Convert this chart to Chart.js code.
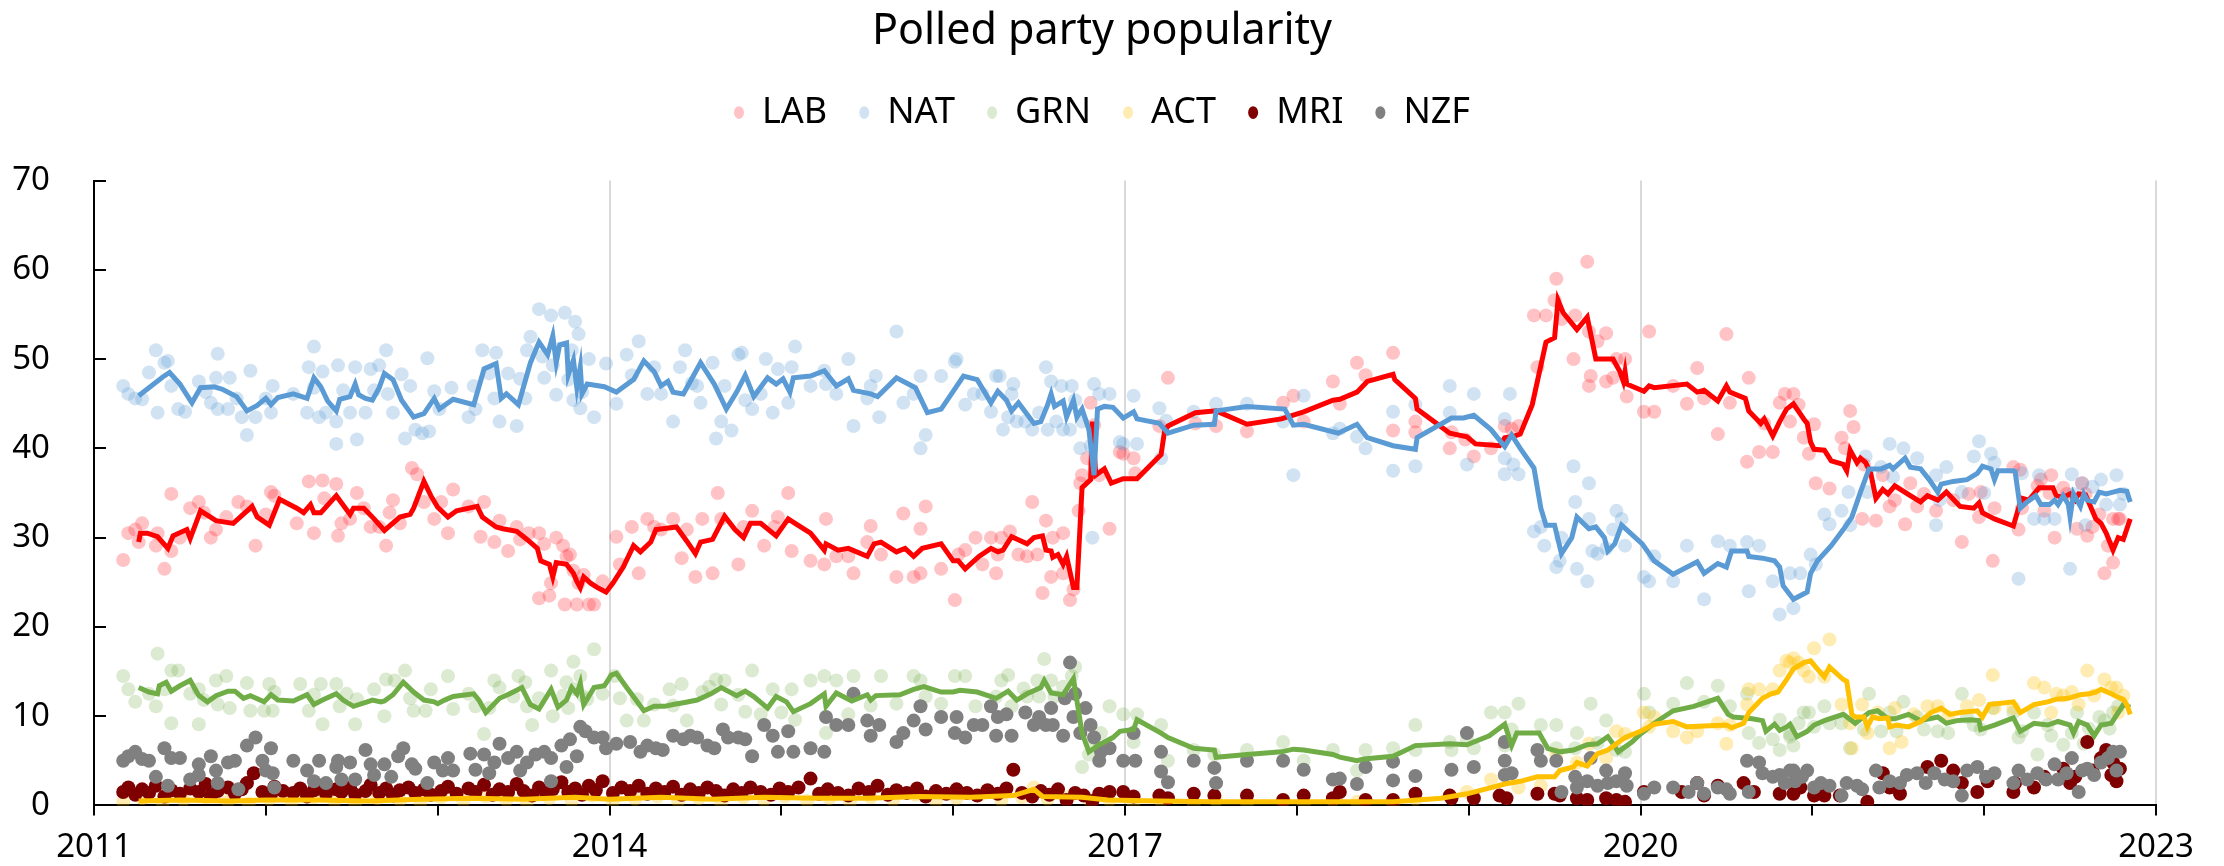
<!DOCTYPE html>
<html>
<head>
<meta charset="utf-8">
<title>Polled party popularity</title>
<script src="https://cdn.jsdelivr.net/npm/chart.js@4.4.1/dist/chart.umd.min.js"></script>
<style>
  body { margin: 0; background: #fff; }
  #wrap { width: 2224px; height: 866px; }
</style>
</head>
<body>
<div id="wrap"><canvas id="myChart"></canvas></div>
<script>
// polls, [decimal year, percent]
const labPolls = [
  [2011.17,27.5],[2011.20,30.5],[2011.24,30.9],[2011.26,29.5],[2011.28,31.6],[2011.36,29.1],[2011.37,30.5],[2011.41,26.5],
  [2011.45,34.9],[2011.45,28.5],[2011.50,30.0],[2011.56,33.3],[2011.61,34.0],[2011.64,32.8],[2011.68,30.0],[2011.71,30.9],
  [2011.77,32.3],[2011.84,34.0],[2011.89,33.5],[2011.94,29.1],[2012.00,32.6],[2012.03,35.1],[2012.05,34.7],[2012.18,31.6],
  [2012.25,36.3],[2012.28,30.5],[2012.33,36.4],[2012.34,34.4],[2012.41,36.0],[2012.42,30.2],[2012.44,31.6],[2012.49,32.1],
  [2012.53,35.0],[2012.57,33.3],[2012.61,31.2],[2012.66,31.2],[2012.70,29.1],[2012.72,32.8],[2012.74,34.2],[2012.78,31.6],
  [2012.85,37.8],[2012.88,37.1],[2012.92,34.0],[2012.98,32.1],[2013.02,34.0],[2013.06,30.5],[2013.09,35.4],[2013.18,33.5],
  [2013.25,30.1],[2013.27,34.0],[2013.33,29.5],[2013.36,31.9],[2013.41,28.5],[2013.46,31.2],[2013.48,29.8],[2013.53,30.5],
  [2013.59,30.5],[2013.59,23.2],[2013.62,29.3],[2013.65,23.5],[2013.66,24.9],[2013.69,30.0],[2013.73,29.1],[2013.74,22.5],
  [2013.75,27.9],[2013.77,28.1],[2013.79,26.3],[2013.81,22.5],[2013.82,24.9],[2013.85,25.8],[2013.88,22.5],[2013.91,22.5],
  [2013.96,25.1],[2014.04,30.1],[2014.06,27.0],[2014.13,31.2],[2014.17,26.0],[2014.22,32.1],[2014.26,31.2],[2014.30,30.9],
  [2014.37,32.1],[2014.42,27.7],[2014.45,30.9],[2014.50,25.6],[2014.54,32.1],[2014.60,26.0],[2014.63,35.0],[2014.65,32.1],
  [2014.75,27.0],[2014.78,31.2],[2014.83,33.0],[2014.90,29.1],[2014.96,31.2],[2014.98,32.3],[2015.04,35.0],[2015.06,28.5],
  [2015.17,27.4],[2015.25,27.0],[2015.26,32.1],[2015.32,27.9],[2015.39,27.9],[2015.42,26.0],[2015.50,29.5],[2015.52,31.3],
  [2015.58,28.1],[2015.67,25.6],[2015.71,32.7],[2015.77,25.6],[2015.81,26.0],[2015.81,31.0],[2015.84,33.5],[2015.93,26.5],
  [2016.01,23.0],[2016.03,28.1],[2016.07,28.6],[2016.13,30.0],[2016.17,27.0],[2016.22,30.0],[2016.25,26.0],[2016.26,28.1],
  [2016.28,30.0],[2016.33,30.7],[2016.38,28.1],[2016.43,27.9],[2016.46,34.0],[2016.49,28.1],[2016.52,23.8],[2016.54,31.9],
  [2016.57,25.6],[2016.58,30.0],[2016.64,30.5],[2016.64,26.0],[2016.68,23.0],[2016.70,24.2],[2016.73,33.0],[2016.74,36.1],
  [2016.75,37.0],[2016.78,38.9],[2016.80,45.1],[2016.82,42.6],[2016.85,37.0],[2016.91,31.0],[2016.97,39.6],[2016.99,39.4],
  [2017.05,38.9],[2017.06,37.2],[2017.20,42.5],[2017.25,47.9],[2017.41,42.8],[2017.53,42.5],[2017.71,41.9],[2017.92,45.1],
  [2017.98,45.9],[2018.04,43.0],[2018.21,47.5],[2018.25,45.0],[2018.35,49.6],[2018.40,48.2],[2018.56,50.7],[2018.56,42.0],
  [2018.69,43.0],[2018.69,41.8],[2018.89,40.0],[2018.90,41.8],[2018.98,41.0],[2019.03,39.1],[2019.13,40.0],[2019.21,42.5],
  [2019.25,42.2],[2019.29,42.5],[2019.38,54.9],[2019.40,49.1],[2019.45,54.9],[2019.50,56.6],[2019.51,59.0],[2019.54,54.5],
  [2019.61,50.0],[2019.62,54.9],[2019.69,60.9],[2019.70,53.1],[2019.71,48.1],[2019.70,47.0],[2019.75,52.0],[2019.80,47.5],
  [2019.80,52.9],[2019.84,47.9],[2019.86,50.0],[2019.91,50.0],[2019.92,45.8],[2020.02,44.1],[2020.05,53.1],[2020.08,44.1],
  [2020.19,47.0],[2020.27,45.0],[2020.33,49.0],[2020.37,45.6],[2020.45,41.6],[2020.50,52.8],[2020.52,45.1],[2020.62,38.5],
  [2020.63,47.9],[2020.69,39.6],[2020.72,42.8],[2020.77,39.6],[2020.81,45.1],[2020.84,46.1],[2020.87,43.0],[2020.89,46.1],
  [2020.92,44.9],[2020.95,41.2],[2020.98,39.4],[2021.01,42.7],[2021.02,36.1],[2021.10,35.5],[2021.17,41.2],[2021.19,40.0],
  [2021.22,44.2],[2021.24,42.4],[2021.29,32.1],[2021.30,38.2],[2021.37,31.9],[2021.41,37.0],[2021.45,33.5],[2021.48,34.2],
  [2021.54,31.5],[2021.57,36.1],[2021.61,33.5],[2021.65,34.9],[2021.72,33.0],[2021.82,34.2],[2021.87,29.5],[2021.91,34.9],
  [2021.97,32.3],[2021.98,35.1],[2022.05,27.4],[2022.06,33.3],[2022.17,37.9],[2022.20,30.9],[2022.21,37.6],[2022.22,33.3],
  [2022.31,35.8],[2022.33,36.5],[2022.35,33.0],[2022.38,35.0],[2022.39,37.0],[2022.41,30.0],[2022.46,35.6],[2022.48,34.9],
  [2022.54,31.0],[2022.57,36.1],[2022.59,34.9],[2022.60,30.2],[2022.63,31.2],[2022.67,32.6],[2022.70,26.0],[2022.72,29.1],
  [2022.75,27.2],[2022.75,32.1],[2022.78,32.1],[2022.79,32.1]
];
const natPolls = [
  [2011.17,47.0],[2011.20,46.1],[2011.24,45.6],[2011.28,45.5],[2011.32,48.5],[2011.36,51.0],[2011.37,44.0],[2011.41,49.6],
  [2011.43,49.8],[2011.45,47.0],[2011.49,44.4],[2011.53,44.1],[2011.61,47.5],[2011.65,46.3],[2011.68,45.1],[2011.71,47.9],
  [2011.72,50.6],[2011.72,44.4],[2011.78,44.4],[2011.79,47.9],[2011.83,45.6],[2011.86,43.5],[2011.89,41.5],[2011.91,48.7],
  [2011.94,43.5],[2012.00,45.6],[2012.03,44.0],[2012.04,47.0],[2012.16,46.1],[2012.24,44.0],[2012.25,49.1],[2012.28,51.4],
  [2012.28,46.8],[2012.31,43.5],[2012.33,48.6],[2012.35,44.0],[2012.41,43.0],[2012.41,40.5],[2012.42,49.3],[2012.45,46.5],
  [2012.49,44.0],[2012.52,49.1],[2012.53,41.0],[2012.58,44.0],[2012.61,48.9],[2012.63,46.5],[2012.66,49.3],[2012.70,51.0],
  [2012.71,46.1],[2012.74,44.0],[2012.79,48.3],[2012.81,41.1],[2012.84,47.0],[2012.87,42.1],[2012.91,41.7],[2012.94,50.1],
  [2012.95,41.9],[2012.98,46.4],[2013.01,44.4],[2013.08,46.8],[2013.18,43.5],[2013.21,47.0],[2013.22,44.4],[2013.26,51.0],
  [2013.30,48.4],[2013.33,45.6],[2013.34,50.7],[2013.36,43.0],[2013.41,48.4],[2013.46,42.5],[2013.48,47.8],[2013.51,45.6],
  [2013.52,51.0],[2013.54,52.5],[2013.59,55.6],[2013.61,50.3],[2013.62,47.9],[2013.66,54.9],[2013.67,49.3],[2013.69,46.0],
  [2013.74,55.2],[2013.76,47.7],[2013.78,51.0],[2013.80,54.2],[2013.82,52.8],[2013.79,45.4],[2013.83,44.5],[2013.84,46.3],
  [2013.88,50.0],[2013.91,43.5],[2013.98,49.5],[2014.04,45.0],[2014.10,50.5],[2014.13,48.2],[2014.17,52.0],[2014.22,46.1],
  [2014.26,49.1],[2014.30,46.1],[2014.37,43.0],[2014.41,49.1],[2014.44,51.0],[2014.48,47.3],[2014.51,47.0],[2014.53,45.1],
  [2014.60,49.6],[2014.62,41.1],[2014.65,43.0],[2014.67,47.0],[2014.71,42.0],[2014.75,50.5],[2014.77,50.7],[2014.79,45.4],
  [2014.83,44.4],[2014.88,46.1],[2014.91,50.0],[2014.95,44.0],[2014.98,48.9],[2015.04,45.1],[2015.06,49.1],[2015.08,51.4],
  [2015.17,47.0],[2015.25,48.7],[2015.26,47.2],[2015.32,46.1],[2015.39,50.0],[2015.42,42.5],[2015.50,45.6],[2015.52,47.0],
  [2015.55,48.1],[2015.57,43.5],[2015.67,53.1],[2015.71,45.1],[2015.77,46.1],[2015.81,40.0],[2015.81,48.1],[2015.84,41.5],
  [2015.93,48.1],[2016.01,49.7],[2016.02,50.0],[2016.07,44.9],[2016.12,46.1],[2016.17,46.1],[2016.22,44.1],[2016.25,48.1],
  [2016.27,48.1],[2016.29,42.1],[2016.32,43.5],[2016.34,46.1],[2016.35,47.2],[2016.37,43.0],[2016.42,43.0],[2016.46,42.1],
  [2016.50,44.0],[2016.54,49.1],[2016.55,42.1],[2016.57,47.5],[2016.60,43.0],[2016.63,47.0],[2016.64,42.1],[2016.68,42.1],
  [2016.69,47.0],[2016.71,45.4],[2016.74,40.0],[2016.75,43.0],[2016.80,40.3],[2016.82,47.2],[2016.81,30.0],[2016.85,46.1],
  [2016.91,46.1],[2016.97,40.7],[2016.99,40.5],[2017.05,45.9],[2017.07,40.5],[2017.20,44.5],[2017.21,38.9],[2017.24,43.1],
  [2017.40,44.1],[2017.53,45.0],[2017.71,45.0],[2017.92,43.0],[2017.98,37.0],[2018.04,45.9],[2018.21,41.7],[2018.25,42.2],
  [2018.35,41.3],[2018.40,40.0],[2018.56,44.1],[2018.56,37.5],[2018.69,44.9],[2018.69,38.0],[2018.89,47.0],[2018.89,44.0],
  [2018.99,38.2],[2019.03,46.1],[2019.21,43.3],[2019.24,46.1],[2019.21,38.9],[2019.21,37.1],[2019.26,38.2],[2019.29,37.1],
  [2019.38,30.7],[2019.42,31.2],[2019.44,29.1],[2019.51,26.7],[2019.54,30.0],[2019.53,27.4],[2019.61,38.0],[2019.62,34.0],
  [2019.63,26.5],[2019.69,25.1],[2019.70,36.1],[2019.70,32.1],[2019.72,28.5],[2019.75,28.2],[2019.80,28.8],[2019.84,30.9],
  [2019.86,33.0],[2019.89,32.1],[2019.91,29.1],[2020.02,25.6],[2020.05,25.1],[2020.08,27.9],[2020.19,25.1],[2020.27,29.1],
  [2020.37,23.1],[2020.45,29.6],[2020.52,29.1],[2020.62,29.5],[2020.63,24.0],[2020.69,29.1],[2020.77,25.1],[2020.81,21.4],
  [2020.87,26.0],[2020.89,22.1],[2020.93,26.0],[2020.99,28.1],[2021.02,27.0],[2021.07,32.6],[2021.10,31.5],[2021.17,33.0],
  [2021.21,35.1],[2021.22,31.4],[2021.31,39.1],[2021.32,35.1],[2021.40,37.9],[2021.45,40.5],[2021.47,36.8],[2021.53,40.0],
  [2021.61,38.9],[2021.72,37.0],[2021.72,31.4],[2021.74,34.2],[2021.78,37.9],[2021.87,35.1],[2021.94,39.1],[2021.97,40.8],
  [2022.00,35.0],[2022.04,39.4],[2022.06,38.4],[2022.20,25.4],[2022.22,37.2],[2022.29,32.1],[2022.32,37.0],[2022.35,32.1],
  [2022.41,32.1],[2022.51,37.1],[2022.50,26.5],[2022.52,34.9],[2022.57,36.1],[2022.59,31.4],[2022.63,35.7],[2022.68,36.5],
  [2022.71,33.7],[2022.77,37.0],[2022.79,33.7],[2022.81,34.9]
];
const grnPolls = [
  [2011.17,14.5],[2011.20,13.0],[2011.24,11.6],[2011.32,12.5],[2011.36,11.1],[2011.37,17.0],[2011.41,13.0],[2011.45,15.1],
  [2011.45,9.2],[2011.49,15.1],[2011.56,12.5],[2011.61,9.1],[2011.61,13.0],[2011.64,11.8],[2011.71,14.0],[2011.72,11.3],
  [2011.77,14.5],[2011.79,10.9],[2011.89,13.7],[2011.91,10.6],[2011.99,10.6],[2012.02,13.6],[2012.04,10.6],[2012.05,12.7],
  [2012.20,13.6],[2012.25,10.6],[2012.28,12.4],[2012.32,13.6],[2012.33,9.1],[2012.41,13.6],[2012.43,11.1],[2012.47,12.5],
  [2012.52,9.1],[2012.53,11.9],[2012.63,13.0],[2012.69,10.0],[2012.70,14.1],[2012.75,14.0],[2012.81,15.1],[2012.84,12.0],
  [2012.86,10.6],[2012.93,10.6],[2012.96,13.0],[2013.06,14.5],[2013.09,10.8],[2013.18,12.5],[2013.22,11.1],[2013.27,8.0],
  [2013.30,10.9],[2013.33,14.0],[2013.36,13.2],[2013.44,12.2],[2013.47,14.5],[2013.51,13.8],[2013.52,11.1],[2013.55,9.0],
  [2013.59,12.0],[2013.66,15.1],[2013.67,10.0],[2013.73,12.3],[2013.75,13.8],[2013.76,10.9],[2013.79,16.1],[2013.80,13.0],
  [2013.83,14.5],[2013.85,12.2],[2013.87,11.9],[2013.91,17.5],[2013.96,12.5],[2014.03,14.5],[2014.06,12.0],[2014.10,9.5],
  [2014.16,11.9],[2014.20,9.5],[2014.26,11.3],[2014.35,13.0],[2014.37,11.2],[2014.42,13.6],[2014.45,9.5],[2014.54,12.7],
  [2014.58,13.3],[2014.62,14.1],[2014.65,11.3],[2014.67,14.0],[2014.75,12.4],[2014.79,10.5],[2014.83,15.1],[2014.88,10.2],
  [2014.95,13.0],[2015.00,10.4],[2015.06,13.0],[2015.08,9.6],[2015.17,14.0],[2015.25,14.5],[2015.26,8.1],[2015.32,14.0],
  [2015.39,10.2],[2015.42,14.5],[2015.52,11.2],[2015.58,14.5],[2015.67,11.4],[2015.77,14.5],[2015.81,14.0],[2015.84,12.2],
  [2015.93,11.4],[2016.01,14.5],[2016.07,14.5],[2016.13,11.1],[2016.25,12.2],[2016.28,14.0],[2016.32,14.6],[2016.34,11.1],
  [2016.41,13.1],[2016.43,12.2],[2016.49,14.0],[2016.50,12.2],[2016.53,16.4],[2016.57,14.0],[2016.59,12.2],[2016.64,13.3],
  [2016.69,14.5],[2016.71,15.5],[2016.75,4.3],[2016.79,5.7],[2016.82,6.7],[2016.86,8.1],[2016.91,11.1],[2016.99,10.2],
  [2017.05,7.1],[2017.07,10.2],[2017.21,9.0],[2017.25,5.0],[2017.40,6.2],[2017.52,5.7],[2017.71,6.2],[2017.92,7.1],
  [2018.04,5.0],[2018.21,6.2],[2018.35,3.9],[2018.40,6.2],[2018.56,6.4],[2018.69,9.0],[2018.69,6.2],[2018.89,7.1],
  [2018.90,6.2],[2018.99,7.4],[2019.03,6.4],[2019.13,10.4],[2019.21,10.4],[2019.21,6.7],[2019.25,8.5],[2019.29,11.4],
  [2019.42,9.0],[2019.51,6.4],[2019.51,9.0],[2019.62,6.4],[2019.63,8.1],[2019.71,11.4],[2019.75,7.0],[2019.80,9.5],
  [2019.86,6.2],[2019.91,6.0],[2020.02,12.5],[2020.05,10.4],[2020.19,11.4],[2020.27,13.7],[2020.37,11.6],[2020.45,13.4],
  [2020.52,11.1],[2020.62,12.5],[2020.63,8.1],[2020.69,7.0],[2020.77,7.4],[2020.81,9.6],[2020.81,6.2],[2020.87,8.0],
  [2020.89,6.7],[2020.87,7.7],[2020.92,9.2],[2020.95,10.4],[2020.98,10.4],[2021.01,8.8],[2021.07,11.1],[2021.10,9.2],
  [2021.17,9.2],[2021.22,6.4],[2021.30,8.5],[2021.33,12.5],[2021.40,8.3],[2021.45,10.4],[2021.49,8.3],[2021.53,11.6],
  [2021.61,9.9],[2021.65,8.5],[2021.73,8.3],[2021.79,8.1],[2021.87,12.5],[2021.90,9.9],[2021.94,9.0],[2021.98,8.5],
  [2022.05,10.9],[2022.17,10.4],[2022.20,7.6],[2022.22,8.3],[2022.29,10.4],[2022.31,5.7],[2022.37,9.0],[2022.39,7.8],
  [2022.46,6.8],[2022.51,8.1],[2022.54,10.4],[2022.58,6.9],[2022.61,8.6],[2022.67,9.9],[2022.70,9.5],[2022.73,8.6],
  [2022.75,10.4],[2022.78,11.1]
];
const actPolls = [
  [2011.17,0.4],[2011.28,0.8],[2011.40,0.3],[2011.52,0.6],[2011.65,0.9],[2011.78,0.5],[2011.90,0.2],[2012.02,0.7],
  [2012.15,0.4],[2012.28,0.9],[2012.40,0.5],[2012.52,0.3],[2012.65,0.8],[2012.78,0.6],[2012.90,0.4],[2013.02,0.9],
  [2013.15,0.5],[2013.28,1.0],[2013.40,0.6],[2013.52,0.3],[2013.65,0.8],[2013.78,0.5],[2013.90,1.1],[2014.02,0.4],
  [2014.15,0.7],[2014.28,1.0],[2014.40,0.5],[2014.52,0.8],[2014.65,0.3],[2014.78,0.9],[2014.90,0.6],[2015.02,1.0],
  [2015.15,0.5],[2015.28,0.8],[2015.40,0.4],[2015.52,0.9],[2015.65,0.6],[2015.78,1.2],[2015.90,0.5],[2016.02,0.8],
  [2016.15,1.1],[2016.28,0.6],[2016.40,0.9],[2016.47,2.0],[2016.55,0.7],[2016.68,1.0],[2016.80,0.4],[2016.91,0.6],
  [2017.05,0.3],[2017.21,0.5],[2017.40,0.2],[2017.53,0.6],[2017.71,0.3],[2017.92,0.5],[2018.04,0.2],[2018.21,0.6],
  [2018.35,0.4],[2018.56,0.3],[2018.69,0.7],[2018.89,1.1],[2018.99,1.5],[2019.13,2.9],[2019.21,3.4],[2019.29,2.0],
  [2019.42,2.2],[2019.51,5.7],[2019.63,4.8],[2019.70,6.9],[2019.80,5.3],[2019.86,8.3],[2019.91,8.0],[2020.02,10.4],
  [2020.05,8.8],[2020.08,9.9],[2020.19,8.3],[2020.27,7.6],[2020.33,8.3],[2020.45,9.2],[2020.50,6.9],[2020.52,9.0],
  [2020.62,11.3],[2020.63,13.0],[2020.69,13.0],[2020.77,13.0],[2020.81,15.1],[2020.85,16.2],[2020.87,16.0],[2020.89,16.5],
  [2020.92,16.0],[2020.95,15.1],[2020.98,14.4],[2021.01,17.6],[2021.07,14.4],[2021.10,18.6],[2021.17,11.3],[2021.22,9.2],
  [2021.23,6.4],[2021.29,11.3],[2021.32,8.1],[2021.38,10.4],[2021.45,6.4],[2021.48,10.9],[2021.52,7.1],[2021.59,10.2],
  [2021.67,11.1],[2021.73,11.1],[2021.79,9.9],[2021.90,11.1],[2021.97,11.8],[2022.05,14.6],[2022.06,10.9],[2022.17,10.9],
  [2022.29,13.7],[2022.35,13.2],[2022.39,10.4],[2022.42,12.5],[2022.46,12.3],[2022.51,12.7],[2022.55,11.3],[2022.60,15.1],
  [2022.64,12.3],[2022.70,14.1],[2022.74,13.2],[2022.77,13.2],[2022.78,10.4],[2022.81,12.3]
];
const mriPolls = [
  [2011.17,1.5],[2011.20,2.0],[2011.24,1.2],[2011.28,1.8],[2011.32,1.4],[2011.36,2.2],[2011.41,1.0],[2011.45,1.7],
  [2011.50,1.3],[2011.56,1.9],[2011.61,1.5],[2011.65,2.4],[2011.68,1.1],[2011.72,1.6],[2011.78,2.0],[2011.82,1.3],
  [2011.86,1.8],[2011.89,2.5],[2011.93,3.6],[2011.98,1.5],[2012.03,1.2],[2012.05,2.1],[2012.10,1.6],[2012.16,1.4],
  [2012.20,1.9],[2012.24,1.0],[2012.28,1.7],[2012.31,2.2],[2012.35,1.3],[2012.41,1.8],[2012.44,1.5],[2012.49,2.0],
  [2012.52,1.2],[2012.58,1.6],[2012.61,2.3],[2012.66,1.4],[2012.70,1.9],[2012.74,1.1],[2012.78,1.7],[2012.83,2.0],
  [2012.87,1.4],[2012.92,1.8],[2012.96,1.2],[2013.02,1.6],[2013.06,2.1],[2013.11,1.3],[2013.18,1.9],[2013.22,1.5],
  [2013.27,2.3],[2013.32,1.2],[2013.36,1.8],[2013.41,1.5],[2013.46,2.4],[2013.50,1.6],[2013.55,1.1],[2013.59,2.0],
  [2013.63,1.4],[2013.67,1.8],[2013.72,2.6],[2013.76,1.5],[2013.80,1.9],[2013.84,1.2],[2013.88,2.2],[2013.92,1.7],
  [2013.96,2.7],[2014.02,1.4],[2014.07,2.0],[2014.12,1.6],[2014.17,2.2],[2014.22,1.3],[2014.27,1.9],[2014.32,1.5],
  [2014.37,2.1],[2014.42,1.2],[2014.47,1.8],[2014.52,1.4],[2014.57,2.0],[2014.62,1.6],[2014.67,1.1],[2014.72,1.8],
  [2014.77,1.4],[2014.82,2.0],[2014.88,1.5],[2014.94,1.2],[2014.99,1.9],[2015.04,1.5],[2015.10,2.0],[2015.17,3.0],
  [2015.22,1.3],[2015.27,1.8],[2015.33,1.4],[2015.39,1.1],[2015.45,1.9],[2015.51,1.5],[2015.56,2.2],[2015.62,1.2],
  [2015.67,1.7],[2015.73,1.4],[2015.79,1.9],[2015.84,1.0],[2015.90,1.6],[2015.96,1.3],[2016.02,1.8],[2016.08,1.4],
  [2016.14,1.1],[2016.20,1.7],[2016.26,1.3],[2016.31,1.9],[2016.35,4.0],[2016.40,1.4],[2016.46,1.0],[2016.51,1.6],
  [2016.56,1.2],[2016.61,1.8],[2016.66,0.6],[2016.71,1.4],[2016.76,1.1],[2016.81,0.5],[2016.85,1.3],[2016.91,1.5],
  [2016.99,1.5],[2017.05,1.0],[2017.20,1.1],[2017.25,0.8],[2017.40,1.3],[2017.52,1.1],[2017.71,1.1],[2017.92,0.6],
  [2018.04,1.1],[2018.21,0.8],[2018.25,1.5],[2018.40,0.6],[2018.56,0.6],[2018.69,1.3],[2018.90,0.8],[2018.89,1.1],
  [2019.03,0.8],[2019.18,1.1],[2019.22,0.8],[2019.40,1.3],[2019.50,1.3],[2019.53,1.1],[2019.63,0.8],[2019.69,0.6],
  [2019.80,0.8],[2019.86,0.6],[2019.91,0.4],[2020.02,1.5],[2020.24,1.5],[2020.33,2.5],[2020.37,1.1],[2020.45,2.2],
  [2020.60,2.5],[2020.66,1.5],[2020.81,1.3],[2020.89,1.3],[2020.93,2.0],[2021.01,1.1],[2021.07,1.1],[2021.16,1.1],
  [2021.32,0.4],[2021.41,3.6],[2021.45,2.0],[2021.51,1.3],[2021.67,4.3],[2021.75,5.0],[2021.82,3.9],[2021.87,2.5],
  [2021.96,1.5],[2022.02,2.7],[2022.17,1.5],[2022.18,2.5],[2022.29,2.0],[2022.35,3.2],[2022.46,4.1],[2022.50,2.5],
  [2022.53,3.2],[2022.60,7.1],[2022.63,3.9],[2022.68,5.3],[2022.71,6.2],[2022.74,3.4],[2022.75,4.8],[2022.77,2.7],
  [2022.79,4.1]
];
const nzfPolls = [
  [2011.17,5.0],[2011.20,5.5],[2011.24,6.0],[2011.28,5.2],[2011.32,5.0],[2011.36,3.2],[2011.41,6.4],[2011.43,2.2],
  [2011.45,5.3],[2011.50,5.3],[2011.56,2.9],[2011.61,4.6],[2011.61,3.4],[2011.68,5.5],[2011.71,3.9],[2011.72,2.5],
  [2011.78,4.8],[2011.82,5.0],[2011.84,1.8],[2011.89,6.7],[2011.94,7.6],[2011.98,5.0],[2012.00,3.9],[2012.03,6.4],
  [2012.04,3.6],[2012.05,2.0],[2012.16,5.0],[2012.24,3.9],[2012.28,2.7],[2012.31,5.0],[2012.35,2.5],[2012.41,4.3],
  [2012.42,5.0],[2012.44,2.9],[2012.49,4.8],[2012.52,2.9],[2012.58,6.2],[2012.61,4.6],[2012.63,3.4],[2012.69,4.6],
  [2012.73,3.2],[2012.77,5.5],[2012.80,6.4],[2012.85,4.6],[2012.87,4.1],[2012.94,2.5],[2012.98,4.8],[2013.03,3.9],
  [2013.06,5.3],[2013.09,3.9],[2013.19,5.8],[2013.22,4.0],[2013.27,5.7],[2013.30,3.6],[2013.33,4.8],[2013.36,6.9],
  [2013.41,5.3],[2013.46,6.0],[2013.48,3.9],[2013.52,4.8],[2013.57,5.7],[2013.62,6.0],[2013.66,2.7],[2013.66,5.3],
  [2013.72,6.7],[2013.75,4.3],[2013.77,7.4],[2013.81,5.5],[2013.83,8.8],[2013.86,8.3],[2013.91,7.6],[2013.96,7.6],
  [2013.98,6.4],[2014.04,6.9],[2014.12,7.1],[2014.18,6.0],[2014.22,6.7],[2014.27,6.4],[2014.31,6.2],[2014.37,7.8],
  [2014.43,7.4],[2014.47,7.8],[2014.51,7.6],[2014.57,6.7],[2014.61,6.4],[2014.66,8.5],[2014.69,7.6],[2014.75,7.6],
  [2014.79,7.4],[2014.83,5.5],[2014.90,9.0],[2014.95,7.8],[2014.98,6.0],[2015.04,8.3],[2015.07,6.0],[2015.17,6.4],
  [2015.25,6.0],[2015.26,9.9],[2015.32,9.0],[2015.39,9.0],[2015.42,12.5],[2015.50,9.5],[2015.52,7.8],[2015.57,9.0],
  [2015.67,7.1],[2015.71,8.1],[2015.77,9.5],[2015.81,11.1],[2015.84,8.5],[2015.93,9.9],[2016.01,8.1],[2016.02,9.9],
  [2016.07,7.6],[2016.12,9.0],[2016.17,9.0],[2016.22,11.1],[2016.25,7.8],[2016.26,9.9],[2016.31,10.2],[2016.34,7.8],
  [2016.42,10.4],[2016.47,9.0],[2016.50,9.9],[2016.54,9.0],[2016.57,10.9],[2016.58,9.0],[2016.64,7.8],[2016.65,12.0],
  [2016.68,16.0],[2016.70,9.9],[2016.71,12.5],[2016.74,8.1],[2016.77,10.9],[2016.80,9.0],[2016.82,7.6],[2016.85,5.0],
  [2016.86,6.0],[2016.91,6.4],[2016.99,5.0],[2017.05,8.1],[2017.06,5.0],[2017.21,6.0],[2017.21,3.8],[2017.25,2.6],
  [2017.40,5.0],[2017.52,4.2],[2017.53,2.5],[2017.71,5.0],[2017.92,5.0],[2018.04,4.0],[2018.21,2.9],[2018.25,3.0],
  [2018.35,2.4],[2018.40,4.3],[2018.56,4.9],[2018.56,2.8],[2018.69,3.3],[2018.90,4.0],[2018.99,8.1],[2019.03,4.3],
  [2019.21,7.1],[2019.21,5.0],[2019.21,3.4],[2019.25,3.6],[2019.40,6.2],[2019.42,5.0],[2019.51,5.0],[2019.54,1.5],
  [2019.62,3.2],[2019.63,2.0],[2019.69,2.7],[2019.71,5.3],[2019.75,2.2],[2019.80,3.9],[2019.81,2.5],[2019.86,2.7],
  [2019.91,3.6],[2019.92,2.2],[2020.02,1.3],[2020.08,2.0],[2020.19,2.0],[2020.28,1.5],[2020.33,2.5],[2020.37,1.3],
  [2020.45,2.0],[2020.50,1.8],[2020.52,1.3],[2020.62,5.0],[2020.63,1.5],[2020.69,4.8],[2020.71,3.6],[2020.77,3.2],
  [2020.81,3.4],[2020.84,2.5],[2020.87,3.9],[2020.89,3.9],[2020.90,2.7],[2020.94,3.2],[2020.97,3.9],[2021.01,2.0],
  [2021.05,2.5],[2021.10,2.2],[2021.17,1.1],[2021.20,2.5],[2021.26,2.2],[2021.29,1.8],[2021.37,3.9],[2021.39,2.0],
  [2021.45,2.7],[2021.51,2.5],[2021.55,3.4],[2021.61,3.6],[2021.66,2.5],[2021.71,3.6],[2021.77,2.9],[2021.82,2.7],
  [2021.87,1.1],[2021.90,3.9],[2021.96,4.3],[2022.01,3.2],[2022.06,3.6],[2022.17,2.5],[2022.20,3.9],[2022.25,2.9],
  [2022.31,3.6],[2022.36,2.9],[2022.41,4.6],[2022.43,2.9],[2022.48,3.6],[2022.51,5.3],[2022.55,1.5],[2022.57,3.9],
  [2022.60,4.1],[2022.64,3.4],[2022.68,4.8],[2022.72,5.3],[2022.75,6.0],[2022.77,3.9],[2022.79,6.0]
];

// rolling averages drawn as lines
const labTrend = [
  [2011.26,29.5],[2011.27,30.5],[2011.31,30.5],[2011.37,30.1],[2011.43,28.8],[2011.46,30.2],[2011.54,30.9],[2011.56,29.9],
  [2011.62,33.0],[2011.71,31.9],[2011.81,31.6],[2011.92,33.5],[2011.95,32.3],[2012.02,31.4],[2012.08,34.3],[2012.18,33.3],
  [2012.22,32.8],[2012.26,33.7],[2012.28,32.8],[2012.32,32.8],[2012.41,34.7],[2012.49,32.6],[2012.51,33.3],[2012.57,33.3],
  [2012.63,32.1],[2012.69,30.8],[2012.78,32.3],[2012.84,32.6],[2012.86,33.3],[2012.92,36.3],[2012.96,34.7],[2013.00,33.4],
  [2013.06,32.3],[2013.11,33.0],[2013.23,33.5],[2013.26,32.3],[2013.34,31.2],[2013.38,31.0],[2013.46,30.7],[2013.52,29.8],
  [2013.58,28.8],[2013.60,27.4],[2013.65,27.0],[2013.67,25.6],[2013.69,27.2],[2013.75,27.0],[2013.79,26.0],[2013.81,25.1],
  [2013.83,24.4],[2013.85,25.6],[2013.89,24.9],[2013.93,24.4],[2013.98,23.9],[2014.02,24.9],[2014.08,26.7],[2014.14,29.1],
  [2014.18,28.4],[2014.24,29.5],[2014.27,30.9],[2014.31,31.0],[2014.39,31.2],[2014.45,29.6],[2014.50,28.2],[2014.53,29.5],
  [2014.60,29.8],[2014.67,32.4],[2014.73,30.9],[2014.78,30.0],[2014.82,31.6],[2014.88,31.6],[2014.97,30.2],[2015.04,32.1],
  [2015.08,31.6],[2015.17,30.5],[2015.25,28.6],[2015.26,29.3],[2015.33,28.6],[2015.39,28.8],[2015.50,27.9],[2015.54,29.3],
  [2015.58,29.5],[2015.67,28.4],[2015.72,28.8],[2015.77,27.9],[2015.82,28.8],[2015.93,29.3],[2016.00,27.4],[2016.03,27.4],
  [2016.07,26.5],[2016.15,27.9],[2016.22,28.8],[2016.26,28.4],[2016.29,28.6],[2016.34,30.1],[2016.43,29.3],[2016.47,30.0],
  [2016.52,30.2],[2016.54,28.6],[2016.57,28.5],[2016.58,27.8],[2016.61,28.1],[2016.64,27.0],[2016.66,27.9],[2016.70,24.4],
  [2016.72,24.4],[2016.75,35.6],[2016.80,36.5],[2016.81,43.0],[2016.83,37.0],[2016.88,37.7],[2016.92,36.1],[2016.99,36.6],
  [2017.07,36.6],[2017.21,39.3],[2017.23,41.9],[2017.25,42.5],[2017.41,44.0],[2017.53,44.2],[2017.71,42.7],[2017.91,43.3],
  [2018.04,44.1],[2018.21,45.4],[2018.25,45.5],[2018.35,46.3],[2018.41,47.5],[2018.56,48.3],[2018.57,47.7],[2018.69,45.6],
  [2018.70,44.4],[2018.89,41.7],[2018.99,41.3],[2019.04,40.5],[2019.18,40.3],[2019.21,41.2],[2019.27,41.4],[2019.30,41.6],
  [2019.37,44.9],[2019.45,51.9],[2019.50,52.4],[2019.52,56.6],[2019.55,55.2],[2019.63,53.3],[2019.69,54.7],[2019.74,50.0],
  [2019.84,50.0],[2019.88,48.6],[2019.90,47.5],[2019.91,48.6],[2019.92,47.2],[2020.02,46.4],[2020.05,47.0],[2020.08,46.8],
  [2020.27,47.2],[2020.33,46.3],[2020.37,46.5],[2020.45,45.3],[2020.50,47.0],[2020.52,46.3],[2020.61,45.6],[2020.63,44.2],
  [2020.70,42.8],[2020.72,43.3],[2020.77,41.4],[2020.81,43.0],[2020.85,44.4],[2020.89,45.0],[2020.95,43.3],[2020.97,42.8],
  [2020.99,40.7],[2021.01,39.9],[2021.07,39.8],[2021.11,38.6],[2021.18,38.2],[2021.20,37.5],[2021.22,39.8],[2021.26,38.4],
  [2021.28,38.9],[2021.31,38.4],[2021.34,37.2],[2021.37,34.4],[2021.41,35.4],[2021.44,34.9],[2021.48,35.8],[2021.57,34.7],
  [2021.63,34.0],[2021.67,34.7],[2021.73,34.2],[2021.78,35.1],[2021.86,33.5],[2021.94,33.3],[2021.97,33.9],[2021.99,32.8],
  [2022.06,32.1],[2022.17,31.3],[2022.20,33.3],[2022.22,34.4],[2022.26,34.2],[2022.32,35.6],[2022.40,35.6],[2022.42,34.7],
  [2022.46,34.5],[2022.50,34.9],[2022.53,34.2],[2022.55,34.9],[2022.59,34.8],[2022.65,32.1],[2022.68,31.6],[2022.71,30.5],
  [2022.75,28.6],[2022.78,30.0],[2022.81,29.8],[2022.85,32.1]
];
const natTrend = [
  [2011.26,45.9],[2011.40,48.0],[2011.44,48.5],[2011.50,47.2],[2011.57,45.1],[2011.62,46.8],[2011.70,46.9],[2011.75,46.6],
  [2011.83,45.8],[2011.89,44.2],[2011.95,44.8],[2012.00,45.6],[2012.03,44.9],[2012.07,45.7],[2012.16,46.1],[2012.24,45.6],
  [2012.28,47.9],[2012.32,46.9],[2012.36,45.3],[2012.41,44.2],[2012.43,45.5],[2012.49,45.8],[2012.52,47.2],[2012.54,46.0],
  [2012.58,45.6],[2012.62,45.4],[2012.66,46.8],[2012.69,48.4],[2012.74,47.7],[2012.79,45.4],[2012.86,43.5],[2012.92,43.9],
  [2012.98,45.6],[2013.01,44.4],[2013.09,45.5],[2013.21,44.9],[2013.27,48.9],[2013.34,49.5],[2013.37,45.6],[2013.40,46.1],
  [2013.47,44.9],[2013.54,49.6],[2013.59,51.9],[2013.64,50.5],[2013.67,52.6],[2013.69,49.6],[2013.71,51.6],[2013.75,51.8],
  [2013.76,48.2],[2013.79,49.9],[2013.81,46.8],[2013.83,49.1],[2013.84,46.1],[2013.87,47.2],[2013.97,46.9],[2014.04,46.3],
  [2014.14,47.7],[2014.20,49.8],[2014.26,48.6],[2014.30,47.0],[2014.34,47.5],[2014.37,46.3],[2014.43,46.1],[2014.53,49.6],
  [2014.61,47.2],[2014.68,44.4],[2014.74,46.3],[2014.79,48.2],[2014.84,45.8],[2014.92,47.9],[2014.97,47.2],[2015.01,47.8],
  [2015.05,46.3],[2015.07,47.9],[2015.17,48.1],[2015.25,48.7],[2015.32,47.0],[2015.39,47.8],[2015.42,46.5],[2015.52,46.1],
  [2015.56,45.8],[2015.67,47.9],[2015.78,46.8],[2015.85,44.0],[2015.93,44.4],[2016.06,48.1],[2016.14,47.7],[2016.22,45.1],
  [2016.26,46.4],[2016.31,45.4],[2016.34,44.2],[2016.38,45.1],[2016.47,42.8],[2016.51,43.0],[2016.55,44.9],[2016.57,46.1],
  [2016.59,44.7],[2016.64,45.3],[2016.66,43.5],[2016.70,45.4],[2016.72,43.5],[2016.75,44.4],[2016.79,42.1],[2016.82,37.0],
  [2016.84,44.4],[2016.88,44.7],[2016.93,44.6],[2016.99,43.4],[2017.05,44.1],[2017.07,43.3],[2017.20,42.8],[2017.25,41.7],
  [2017.40,42.6],[2017.52,42.7],[2017.53,44.2],[2017.71,44.7],[2017.93,44.4],[2017.98,42.6],[2018.04,42.7],[2018.24,41.7],
  [2018.35,42.7],[2018.41,41.2],[2018.56,40.3],[2018.69,39.9],[2018.70,41.2],[2018.90,43.4],[2018.97,43.4],[2019.03,43.7],
  [2019.13,42.1],[2019.21,40.2],[2019.25,41.5],[2019.30,40.0],[2019.38,37.8],[2019.42,33.3],[2019.45,31.4],[2019.50,31.4],
  [2019.54,28.2],[2019.60,30.0],[2019.63,32.3],[2019.70,31.0],[2019.74,31.2],[2019.79,30.0],[2019.81,28.5],[2019.85,29.3],
  [2019.89,31.4],[2020.01,29.3],[2020.08,27.4],[2020.19,25.9],[2020.33,27.3],[2020.37,26.0],[2020.45,27.1],[2020.50,26.7],
  [2020.53,28.5],[2020.62,28.5],[2020.63,27.9],[2020.71,27.7],[2020.78,27.4],[2020.81,26.7],[2020.83,24.6],[2020.89,23.1],
  [2020.97,23.9],[2020.99,26.0],[2021.03,27.4],[2021.11,29.1],[2021.18,30.9],[2021.23,32.3],[2021.28,35.1],[2021.33,37.7],
  [2021.40,37.7],[2021.45,38.1],[2021.47,37.7],[2021.54,38.9],[2021.57,37.9],[2021.63,37.7],[2021.68,36.5],[2021.73,35.1],
  [2021.75,36.0],[2021.82,36.3],[2021.90,36.5],[2021.96,37.2],[2021.99,38.0],[2022.04,37.7],[2022.06,36.5],[2022.08,37.5],
  [2022.17,37.5],[2022.18,37.4],[2022.21,33.3],[2022.25,34.0],[2022.30,34.7],[2022.33,33.7],[2022.38,33.7],[2022.41,34.2],
  [2022.43,33.7],[2022.46,34.7],[2022.49,33.7],[2022.50,32.3],[2022.52,34.9],[2022.54,34.2],[2022.56,33.5],[2022.58,34.9],
  [2022.60,34.2],[2022.64,34.0],[2022.67,35.1],[2022.71,34.9],[2022.75,35.1],[2022.79,35.3],[2022.83,35.2],[2022.85,34.0]
];
const grnTrend = [
  [2011.26,13.2],[2011.32,12.7],[2011.37,12.5],[2011.38,13.4],[2011.42,13.8],[2011.45,12.8],[2011.50,13.4],[2011.56,14.0],
  [2011.61,12.3],[2011.66,11.6],[2011.71,12.3],[2011.78,12.8],[2011.82,12.8],[2011.87,12.0],[2011.91,12.3],[2011.99,11.6],
  [2012.03,12.4],[2012.07,11.8],[2012.16,11.7],[2012.24,12.4],[2012.28,11.3],[2012.33,11.8],[2012.41,12.5],[2012.45,11.8],
  [2012.51,11.1],[2012.59,11.6],[2012.62,11.8],[2012.67,11.6],[2012.69,11.7],[2012.74,12.4],[2012.80,13.8],[2012.86,12.7],
  [2012.92,11.8],[2012.98,11.6],[2013.00,11.4],[2013.04,11.8],[2013.09,12.2],[2013.21,12.5],[2013.24,11.8],[2013.28,10.4],
  [2013.36,12.0],[2013.42,12.5],[2013.49,13.2],[2013.54,11.3],[2013.59,10.8],[2013.66,13.0],[2013.70,11.0],[2013.75,11.8],
  [2013.78,13.2],[2013.81,12.5],[2013.83,13.7],[2013.85,11.3],[2013.91,13.2],[2013.97,13.4],[2014.01,14.6],[2014.04,14.8],
  [2014.10,13.2],[2014.20,10.6],[2014.26,11.1],[2014.32,11.1],[2014.37,11.3],[2014.43,11.5],[2014.51,11.8],[2014.59,12.5],
  [2014.65,13.2],[2014.74,12.3],[2014.79,12.8],[2014.84,12.2],[2014.92,10.9],[2014.97,12.2],[2015.03,11.6],[2015.07,10.5],
  [2015.17,11.4],[2015.25,12.5],[2015.26,11.1],[2015.32,12.6],[2015.41,11.7],[2015.50,12.4],[2015.52,11.8],[2015.55,12.3],
  [2015.69,12.4],[2015.77,13.0],[2015.83,13.3],[2015.93,12.7],[2016.00,12.7],[2016.04,12.9],[2016.14,12.7],[2016.25,12.0],
  [2016.32,12.8],[2016.37,11.8],[2016.43,12.5],[2016.51,13.2],[2016.53,14.0],[2016.57,12.6],[2016.64,12.4],[2016.70,14.2],
  [2016.75,8.1],[2016.79,6.0],[2016.82,6.4],[2016.84,6.7],[2016.93,7.6],[2016.97,8.3],[2017.05,8.5],[2017.07,9.6],
  [2017.21,8.1],[2017.25,7.6],[2017.40,6.4],[2017.52,6.2],[2017.53,5.4],[2017.71,5.7],[2017.91,6.0],[2017.98,6.3],
  [2018.04,6.2],[2018.21,5.7],[2018.25,5.4],[2018.35,5.0],[2018.39,5.2],[2018.56,5.5],[2018.69,6.7],[2018.89,6.9],
  [2018.99,6.8],[2019.12,7.8],[2019.21,9.1],[2019.25,6.7],[2019.28,8.1],[2019.41,8.1],[2019.46,6.4],[2019.53,6.0],
  [2019.61,6.2],[2019.69,6.8],[2019.75,6.9],[2019.81,7.7],[2019.84,6.9],[2019.87,6.0],[2019.95,7.1],[2020.00,8.0],
  [2020.08,9.2],[2020.19,10.6],[2020.31,11.1],[2020.45,12.0],[2020.51,10.2],[2020.54,9.9],[2020.65,9.7],[2020.71,9.5],
  [2020.73,8.3],[2020.78,9.1],[2020.81,8.4],[2020.85,8.8],[2020.87,9.1],[2020.91,7.7],[2020.97,8.3],[2021.01,9.0],
  [2021.07,9.5],[2021.18,10.2],[2021.25,9.2],[2021.33,10.4],[2021.38,10.6],[2021.44,9.7],[2021.48,9.7],[2021.56,10.2],
  [2021.63,9.5],[2021.73,9.9],[2021.78,9.2],[2021.84,9.5],[2021.92,9.6],[2021.97,9.5],[2021.98,8.5],[2022.06,9.0],
  [2022.17,9.8],[2022.21,8.3],[2022.29,9.2],[2022.37,9.0],[2022.43,9.4],[2022.50,9.0],[2022.52,8.1],[2022.55,9.4],
  [2022.60,9.0],[2022.64,7.8],[2022.68,9.0],[2022.74,9.2],[2022.75,9.5],[2022.81,11.3],[2022.85,11.0]
];
const actTrend = [
  [2011.26,0.5],[2011.50,0.6],[2011.80,0.5],[2012.00,0.6],[2012.30,0.6],[2012.60,0.5],[2012.90,0.7],[2013.20,0.8],
  [2013.50,0.7],[2013.80,0.9],[2014.00,0.7],[2014.30,0.9],[2014.60,0.7],[2014.90,0.9],[2015.20,0.8],[2015.50,0.8],
  [2015.80,1.0],[2016.10,0.9],[2016.35,1.1],[2016.47,1.8],[2016.52,1.0],[2016.75,0.9],[2016.90,0.6],[2017.20,0.5],
  [2017.50,0.4],[2017.90,0.4],[2018.20,0.4],[2018.56,0.4],[2018.70,0.6],[2018.84,0.8],[2018.99,1.3],[2019.13,2.0],
  [2019.21,2.4],[2019.30,2.7],[2019.40,3.2],[2019.50,3.2],[2019.53,3.9],[2019.61,4.3],[2019.63,4.8],[2019.69,4.4],
  [2019.75,5.8],[2019.81,6.2],[2019.86,6.9],[2019.91,7.6],[2020.00,8.3],[2020.08,9.1],[2020.19,9.4],[2020.27,8.8],
  [2020.37,8.9],[2020.50,9.0],[2020.53,8.7],[2020.60,9.2],[2020.63,10.4],[2020.71,12.0],[2020.76,12.5],[2020.80,12.7],
  [2020.85,14.1],[2020.89,15.3],[2020.95,16.0],[2020.99,16.2],[2021.02,15.5],[2021.07,14.4],[2021.10,15.5],[2021.18,14.1],
  [2021.20,13.9],[2021.23,10.2],[2021.25,9.9],[2021.30,9.9],[2021.32,8.8],[2021.35,9.9],[2021.39,9.7],[2021.44,9.8],
  [2021.45,8.8],[2021.49,9.0],[2021.56,8.8],[2021.63,9.4],[2021.69,10.4],[2021.75,10.9],[2021.80,10.2],[2021.86,10.4],
  [2021.96,10.6],[2021.99,9.9],[2022.03,11.3],[2022.17,11.6],[2022.21,10.4],[2022.29,11.3],[2022.37,11.6],[2022.42,11.9],
  [2022.49,12.0],[2022.56,12.4],[2022.61,12.5],[2022.65,12.7],[2022.68,13.0],[2022.74,12.5],[2022.77,12.2],[2022.81,11.9],
  [2022.83,11.3],[2022.85,10.2]
];

const yearMin = 2011;
const yearMax = 2023;
const labeledYears = [2011, 2014, 2017, 2020, 2023];
const gridYears = [2014, 2017, 2020, 2023];

function toPoints(pairs) {
  return pairs.map(([x, y]) => ({ x, y }));
}

function pollSet(label, pairs, color, order) {
  return {
    label,
    data: toPoints(pairs),
    backgroundColor: color,
    borderColor: color,
    borderWidth: 0,
    pointRadius: 7,
    pointHoverRadius: 7,
    order,
  };
}

function trendSet(label, pairs, color) {
  return {
    label,
    trend: true,
    data: toPoints(pairs),
    showLine: true,
    borderColor: color,
    backgroundColor: color,
    borderWidth: 5,
    pointRadius: 0,
    pointHoverRadius: 0,
    tension: 0,
    order: 0,
  };
}

// y ticks in the reference point into the plot, so draw them ourselves
const innerTicks = {
  id: "innerTicks",
  afterDraw(chart) {
    const { ctx, chartArea } = chart;
    const yScale = chart.scales.y;
    ctx.save();
    ctx.strokeStyle = "#000";
    ctx.lineWidth = 2;
    yScale.ticks.forEach((t) => {
      const py = Math.round(yScale.getPixelForValue(t.value));
      ctx.beginPath();
      ctx.moveTo(chartArea.left, py);
      ctx.lineTo(chartArea.left + 12, py);
      ctx.stroke();
    });
    ctx.restore();
  },
};

// extra room between legend and plot, and title/legend nudged right
const headerLayout = {
  id: "headerLayout",
  beforeInit(chart) {
    const fit = chart.legend.fit;
    chart.legend.fit = function () {
      fit.call(this);
      this.height += 40;
    };
  },
  afterLayout(chart) {
    [chart.titleBlock, chart.legend].forEach((box) => {
      if (box) {
        box.left += 24;
        box.right += 24;
      }
    });
  },
};

const font = "'Noto Sans', 'DejaVu Sans', sans-serif";

new Chart(document.getElementById("myChart"), {
  type: "scatter",
  data: {
    datasets: [
      pollSet("LAB", labPolls, "rgba(255, 40, 50, 0.28)", 6),
      pollSet("NAT", natPolls, "rgba(91, 155, 213, 0.28)", 5),
      pollSet("GRN", grnPolls, "rgba(112, 173, 71, 0.25)", 4),
      pollSet("ACT", actPolls, "rgba(255, 192, 0, 0.3)", 3),
      pollSet("MRI", mriPolls, "#7f0000", 2),
      pollSet("NZF", nzfPolls, "#808080", 1),
      trendSet("ACT avg", actTrend, "#ffc000"),
      trendSet("GRN avg", grnTrend, "#70ad47"),
      trendSet("NAT avg", natTrend, "#5b9bd5"),
      trendSet("LAB avg", labTrend, "#ff0000"),
    ],
  },
  options: {
    responsive: true,
    maintainAspectRatio: false,
    animation: false,
    devicePixelRatio: 1,
    layout: { padding: { left: 0, right: 68, top: 0, bottom: -13 } },
    plugins: {
      title: {
        display: true,
        text: "Polled party popularity",
        color: "#000",
        font: { family: font, size: 43, weight: "normal" },
        padding: { top: 6, bottom: 5 },
      },
      legend: {
        position: "top",
        labels: {
          color: "#000",
          font: { family: font, size: 36 },
          usePointStyle: true,
          pointStyle: "circle",
          boxHeight: 9,
          pointStyleWidth: 10,
          padding: 32,
          filter: (item, data) => !data.datasets[item.datasetIndex].trend,
          sort: (a, b) => a.datasetIndex - b.datasetIndex,
        },
      },
      tooltip: { enabled: false },
    },
    scales: {
      x: {
        type: "linear",
        min: yearMin,
        max: yearMax,
        border: { display: true, color: "#000", width: 2 },
        grid: {
          color: (c) => (gridYears.includes(c.tick && c.tick.value) ? "#d9d9d9" : "rgba(0,0,0,0)"),
          lineWidth: 2,
          drawTicks: true,
          tickColor: "#000",
          tickLength: 10,
          tickWidth: 2,
        },
        ticks: {
          stepSize: 1,
          autoSkip: false,
          maxRotation: 0,
          color: "#000",
          padding: 12,
          font: { family: font, size: 33 },
          callback: (v) => (labeledYears.includes(v) ? String(v) : ""),
        },
      },
      y: {
        min: 0,
        max: 70,
        border: { display: true, color: "#000", width: 2 },
        grid: { display: false },
        afterFit: (scale) => {
          scale.width = 94;
        },
        ticks: {
          stepSize: 10,
          color: "#000",
          padding: 36,
          font: { family: font, size: 33 },
        },
      },
    },
  },
  plugins: [innerTicks, headerLayout],
});
</script>
</body>
</html>
